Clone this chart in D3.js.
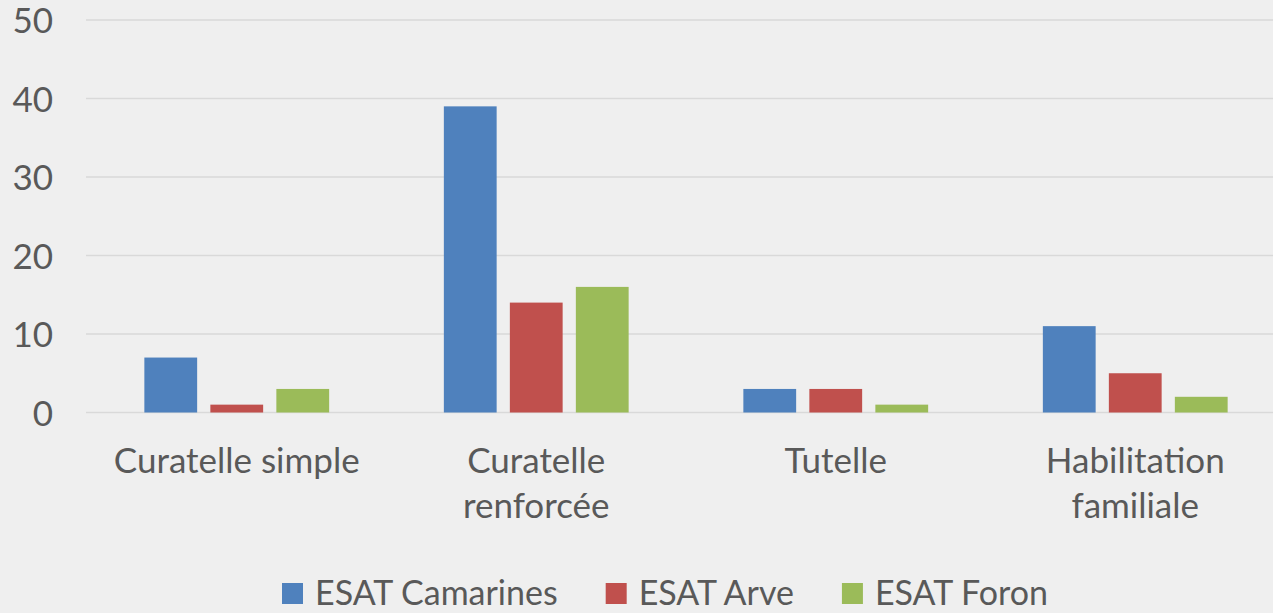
<!DOCTYPE html>
<html>
<head>
<meta charset="utf-8">
<script src="https://cdn.jsdelivr.net/npm/d3@7/dist/d3.min.js"></script>
<style>
  html, body { margin: 0; padding: 0; background: #efefef; }
  svg { display: block; }
  text { font-family: Lato, "Open Sans", sans-serif; fill: #595959; }
</style>
</head>
<body>
<svg id="chart" width="1273" height="613"></svg>
<script>
const categories = ["Curatelle simple", "Curatelle renforcée", "Tutelle", "Habilitation familiale"];
const seriesNames = ["ESAT Camarines", "ESAT Arve", "ESAT Foron"];
const camarines = [7, 39, 3, 11];
const arve = [1, 14, 3, 5];
const foron = [3, 16, 1, 2];
const yTicks = [0, 10, 20, 30, 40, 50];
const colors = ["#4f81bd", "#c0504d", "#9bbb59"];

const seriesValues = [camarines, arve, foron];
const W = 1273, H = 613;
const svg = d3.select("#chart");
svg.append("rect").attr("width", W).attr("height", H).attr("fill", "#efefef");

const x0 = d3.scaleBand().domain(categories).range([87, 1285]).padding(0);
const x1 = d3.scaleBand().domain(seriesNames).range([-99, 99]).paddingInner(0.2).paddingOuter(0.1);
const y = d3.scaleLinear().domain([0, 50]).range([412.5, 20]);

// gridlines
svg.append("g").selectAll("line").data(yTicks).join("line")
  .attr("x1", 86).attr("x2", W)
  .attr("y1", d => y(d)).attr("y2", d => y(d))
  .attr("stroke", "#d9d9d9").attr("stroke-width", 1.5);

// y axis labels
const yAxis = d3.axisLeft(y).tickValues(yTicks).tickSize(0).tickPadding(0);
const gy = svg.append("g").attr("transform", "translate(53,0)").call(yAxis);
gy.select(".domain").remove();
gy.selectAll("text").attr("font-size", 35).attr("fill", "#595959")
  .attr("font-family", "Lato, 'Open Sans', sans-serif").attr("dy", "0.36em");

// bars
const groups = svg.append("g").selectAll("g").data(categories).join("g")
  .attr("transform", d => `translate(${x0(d) + x0.bandwidth() / 2},0)`);
groups.selectAll("rect").data((c, i) => seriesNames.map((s, j) => ({ s, j, v: seriesValues[j][i] })))
  .join("rect")
  .attr("x", d => x1(d.s))
  .attr("width", x1.bandwidth())
  .attr("y", d => y(d.v))
  .attr("height", d => y(0) - y(d.v))
  .attr("fill", d => colors[d.j]);

// category labels with wrapping
const labelSize = 35;
const maxLabelW = 260;
const labelG = svg.append("g");
categories.forEach(c => {
  const cx = x0(c) + x0.bandwidth() / 2;
  const words = c.split(" ");
  let lines = [], cur = [];
  const probe = labelG.append("text").attr("font-size", labelSize);
  words.forEach(w => {
    const trial = cur.concat([w]).join(" ");
    probe.text(trial);
    if (probe.node().getComputedTextLength() > maxLabelW && cur.length) {
      lines.push(cur.join(" "));
      cur = [w];
    } else cur.push(w);
  });
  lines.push(cur.join(" "));
  probe.remove();
  lines.forEach((ln, k) => {
    labelG.append("text").attr("x", cx).attr("y", 473 + k * 45)
      .attr("text-anchor", "middle").attr("font-size", labelSize).text(ln);
  });
});

// legend
const leg = svg.append("g");
let lx = 282;
seriesNames.forEach((s, j) => {
  leg.append("rect").attr("x", lx).attr("y", 583).attr("width", 21).attr("height", 21).attr("fill", colors[j]);
  const tx = leg.append("text").attr("x", lx + 33).attr("y", 605).attr("font-size", 34).text(s);
  lx += 33 + tx.node().getComputedTextLength() + 48;
});
</script>
</body>
</html>
